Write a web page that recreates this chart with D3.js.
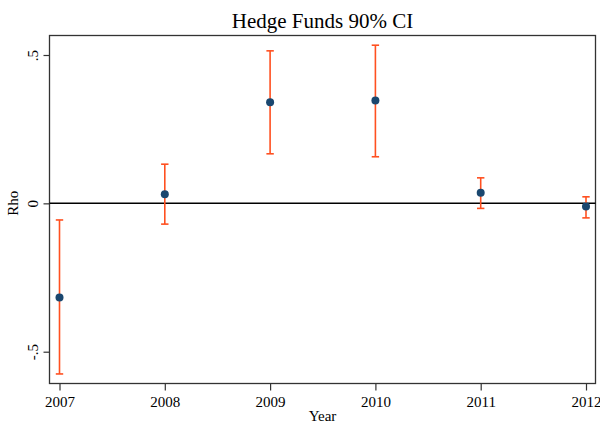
<!DOCTYPE html>
<html>
<head>
<meta charset="utf-8">
<script src="https://cdn.jsdelivr.net/npm/d3@7"></script>
<style>
  html, body { margin: 0; padding: 0; background: #fff; }
  svg { display: block; }
  text { font-family: "Liberation Serif", "Times New Roman", serif; fill: #000; }
</style>
</head>
<body>
<svg id="chart" width="600" height="425"></svg>
<script>
const years   = [2007, 2008, 2009, 2010, 2011, 2012];
const rho     = [-0.317, 0.031, 0.341, 0.347, 0.036, -0.011];
const ciLow   = [-0.575, -0.070, 0.167, 0.157, -0.017, -0.049];
const ciHigh  = [-0.056, 0.132, 0.514, 0.533, 0.086, 0.022];
const yTicks  = [-0.5, 0, 0.5];
const yTickLabels = ["-.5", "0", ".5"];
const title   = "Hedge Funds 90% CI";
const xTitle  = "Year";
const yTitle  = "Rho";

const svg = d3.select("#chart");
const plot = { left: 49.5, right: 595.5, top: 35.5, bottom: 383.5 };

const x = d3.scaleLinear().domain([2007, 2012]).range([59.5, 586]);
const y = d3.scaleLinear().domain([-0.5, 0.5]).range([351.7, 55]);

// frame
svg.append("rect")
  .attr("x", plot.left).attr("y", plot.top)
  .attr("width", plot.right - plot.left).attr("height", plot.bottom - plot.top)
  .attr("fill", "none").attr("stroke", "#333").attr("stroke-width", 1.3);

// zero line
svg.append("line")
  .attr("x1", plot.left).attr("x2", plot.right)
  .attr("y1", y(0)).attr("y2", y(0))
  .attr("stroke", "#000").attr("stroke-width", 1.5);

// axes
const xAxis = d3.axisBottom(x).tickValues(years).tickFormat(d3.format("d"))
  .tickSize(7).tickPadding(4);
const gx = svg.append("g").attr("transform", `translate(0,${plot.bottom})`).call(xAxis);
gx.select(".domain").remove();
gx.selectAll(".tick line").attr("stroke", "#333").attr("stroke-width", 1.2);
gx.selectAll(".tick text").style("font-size", "15px").attr("dy", "0.85em")
  .style("font-family", '"Liberation Serif", serif').attr("fill", "#000");

const yAxis = d3.axisLeft(y).tickValues(yTicks)
  .tickFormat((d, i) => yTickLabels[i]).tickSize(6).tickPadding(4);
const gy = svg.append("g").attr("transform", `translate(${plot.left},0)`).call(yAxis);
gy.select(".domain").remove();
gy.selectAll(".tick line").attr("stroke", "#333").attr("stroke-width", 1.2);
gy.selectAll(".tick text")
  .style("font-size", "15px")
  .style("font-family", '"Liberation Serif", serif').attr("fill", "#000")
  .attr("text-anchor", "middle")
  .attr("dy", null)
  .attr("x", null)
  .attr("transform", "translate(-17,0) rotate(-90)")
  .attr("dominant-baseline", "central");

// titles
svg.append("text").attr("x", (plot.left + plot.right) / 2).attr("y", 28)
  .attr("text-anchor", "middle").style("font-size", "21px").text(title);
svg.append("text").attr("x", (plot.left + plot.right) / 2).attr("y", 421)
  .attr("text-anchor", "middle").style("font-size", "15px").text(xTitle);
svg.append("text").attr("transform", `translate(18,${y(0)}) rotate(-90)`)
  .attr("text-anchor", "middle").style("font-size", "15px").text(yTitle);

// CI bars
const data = years.map((yr, i) => ({ yr, r: rho[i], lo: ciLow[i], hi: ciHigh[i] }));
const ciColor = "#ff5020";
const cap = 3.7;
const g = svg.append("g");
g.selectAll(".ci").data(data).join("line")
  .attr("x1", d => x(d.yr)).attr("x2", d => x(d.yr))
  .attr("y1", d => y(d.lo)).attr("y2", d => y(d.hi))
  .attr("stroke", ciColor).attr("stroke-width", 1.6);
g.selectAll(".capHi").data(data).join("line")
  .attr("x1", d => x(d.yr) - cap).attr("x2", d => x(d.yr) + cap)
  .attr("y1", d => y(d.hi)).attr("y2", d => y(d.hi))
  .attr("stroke", ciColor).attr("stroke-width", 1.6);
g.selectAll(".capLo").data(data).join("line")
  .attr("x1", d => x(d.yr) - cap).attr("x2", d => x(d.yr) + cap)
  .attr("y1", d => y(d.lo)).attr("y2", d => y(d.lo))
  .attr("stroke", ciColor).attr("stroke-width", 1.6);

// points
g.selectAll("circle").data(data).join("circle")
  .attr("cx", d => x(d.yr)).attr("cy", d => y(d.r)).attr("r", 4)
  .attr("fill", "#1a476f");
</script>
</body>
</html>
